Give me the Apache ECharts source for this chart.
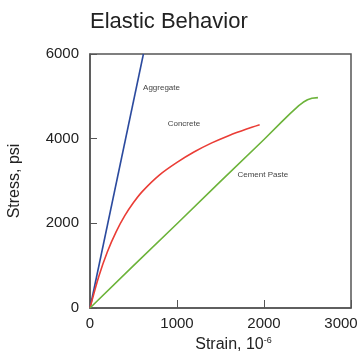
<!DOCTYPE html>
<html>
<head>
<meta charset="utf-8">
<script src="https://cdn.jsdelivr.net/npm/echarts@6/dist/echarts.min.js"></script>
<style>
  html, body { margin: 0; padding: 0; background: #fff; }
  #main { width: 361px; height: 351px; }
</style>
</head>
<body>
<div id="main"></div>
<script>
var aggregate = [[0, 0], [614, 6000]];
var concrete = [[0, 0], [100, 740], [200, 1330], [300, 1800], [400, 2180], [500, 2490],
    [600, 2750], [800, 3145], [1000, 3440], [1200, 3690], [1400, 3900], [1600, 4077],
    [1800, 4229], [1950, 4331]];
var cementPaste = [[0, 0], [500, 1000], [1000, 1990], [1500, 2990], [2000, 3980],
    [2200, 4390], [2300, 4590], [2400, 4780], [2450, 4860], [2500, 4920], [2550, 4955],
    [2620, 4970]];
var curveNames = ['Aggregate', 'Concrete', 'Cement Paste'];
var labelAt = [[610, 5210], [893, 4360], [1695, 3140]];
var xMax = 3000;
var yMax = 6000;

var dom = document.getElementById('main');
var chart = echarts.init(dom, null, { renderer: 'canvas' });

var font = '"Liberation Sans", Arial, sans-serif';

var option = {
    animation: false,
    title: {
        text: 'Elastic Behavior',
        left: 85,
        top: 6,
        textStyle: { fontFamily: font, fontSize: 22, fontWeight: 'normal', color: '#222' }
    },
    grid: {
        left: 90, right: 10, top: 54, bottom: 43,
        outerBoundsMode: 'none',
        show: true, borderColor: '#555', borderWidth: 1.5
    },
    xAxis: {
        type: 'value', min: 0, max: xMax, interval: 1000,
        name: '{a|Strain, 10}{b|-6}',
        nameLocation: 'middle', nameGap: 27,
        nameTextStyle: {
            padding: [0, 0, 0, 26],
            rich: {
                a: { fontFamily: font, fontSize: 16, color: '#222' },
                b: { fontFamily: font, fontSize: 9, color: '#222', verticalAlign: 'top', padding: [0, 0, 9, 0] }
            }
        },
        axisLine: { lineStyle: { color: '#555', width: 1.5 } },
        axisTick: { inside: true, length: 8, lineStyle: { color: '#555' } },
        axisLabel: {
            fontFamily: font, fontSize: 15, color: '#222', margin: 8,
            formatter: function (v) { return v === xMax ? '{r|' + v + '}' : String(v); },
            rich: { r: { fontFamily: font, fontSize: 15, color: '#222', padding: [0, 20, 0, 0] } }
        },
        splitLine: { show: false }
    },
    yAxis: {
        type: 'value', min: 0, max: yMax, interval: 2000,
        name: 'Stress, psi',
        nameLocation: 'middle', nameGap: 67,
        nameTextStyle: { fontFamily: font, fontSize: 16, color: '#222' },
        axisLine: { lineStyle: { color: '#555', width: 1.5 } },
        axisTick: { inside: true, length: 7, lineStyle: { color: '#555' } },
        axisLabel: {
            fontFamily: font, fontSize: 15, color: '#222', margin: 11,
            formatter: function (v) { return String(v); }
        },
        splitLine: { show: false }
    },
    series: [
        {
            name: curveNames[0], type: 'line', data: aggregate, showSymbol: false,
            lineStyle: { color: '#2b4a9e', width: 1.6 }
        },
        {
            name: curveNames[1], type: 'line', data: concrete, showSymbol: false,
            smooth: 0.3,
            lineStyle: { color: '#ea3d36', width: 1.6 }
        },
        {
            name: curveNames[2], type: 'line', data: cementPaste, showSymbol: false,
            lineStyle: { color: '#6cb33a', width: 1.6, join: 'round' }
        }
    ]
};

chart.setOption(option);

var labels = curveNames.map(function (n, i) {
    var p = chart.convertToPixel({ gridIndex: 0 }, labelAt[i]);
    return {
        type: 'text', x: p[0], y: p[1],
        style: { text: n, fontFamily: font, fontSize: 8, fill: '#444', verticalAlign: 'middle' }
    };
});
chart.setOption({ graphic: labels });

window.addEventListener('resize', chart.resize);
</script>
</body>
</html>
